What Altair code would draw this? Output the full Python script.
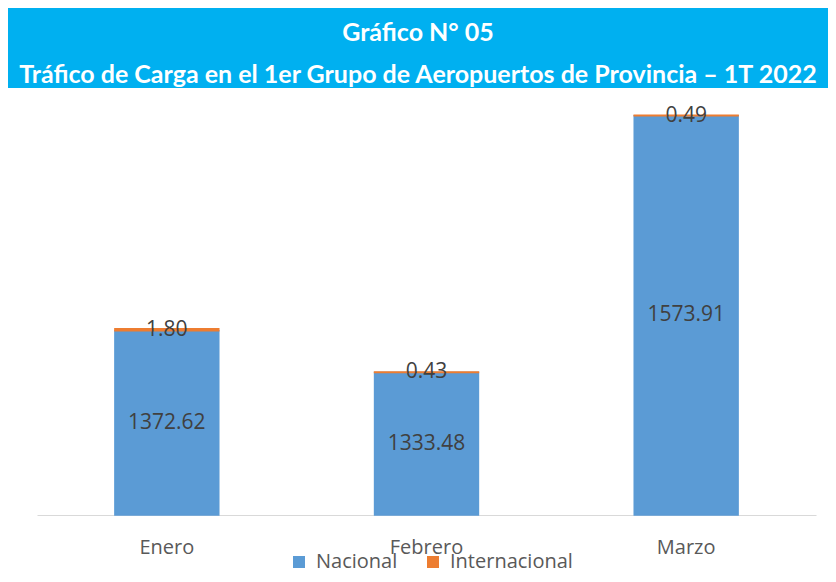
import altair as alt
import pandas as pd

meses = ["Enero", "Febrero", "Marzo"]
nacional = [1372.62, 1333.48, 1573.91]
internacional = [1.80, 0.43, 0.49]
series = ["Nacional", "Internacional"]
colores = ["#5B9BD5", "#ED7D31"]
titulos = ["Gráfico N°  05",
           "Tráfico de Carga en el 1er Grupo de Aeropuertos de Provincia – 1T 2022"]
y_min, y_max = 1200, 1600

rows = []
for m, n, i in zip(meses, nacional, internacional):
    rows.append({"mes": m, "serie": "Nacional", "valor": n, "orden": 0,
                 "label_y": (y_min + n) / 2})
    rows.append({"mes": m, "serie": "Internacional", "valor": i, "orden": 1,
                 "label_y": n + i / 2})
df = pd.DataFrame(rows)

tdf = pd.DataFrame({"linea": [0, 1], "texto": titulos})

x_enc = alt.X(
    "mes:N", sort=meses,
    scale=alt.Scale(range=[29, 808], paddingInner=0.6, paddingOuter=0.3),
    axis=alt.Axis(title=None, labelAngle=0, ticks=False, domainColor="#D9D9D9",
                  labelPadding=22, labelFontSize=20, labelColor="#595959",
                  labelFont="Open Sans"),
)
y_scale = alt.Scale(domain=[y_min, y_max], clamp=True, nice=False, zero=False)

bars = alt.Chart(df).mark_bar(strokeWidth=1.5).encode(
    x=x_enc,
    y=alt.Y("valor:Q", stack="zero", scale=y_scale, axis=None),
    color=alt.Color("serie:N", scale=alt.Scale(domain=series, range=colores),
                    legend=alt.Legend(orient="none", legendX=281, legendY=544,
                                      direction="horizontal", title=None,
                                      symbolType="square", symbolSize=144,
                                      symbolStrokeWidth=0,
                                      labelFontSize=20, labelColor="#595959",
                                      labelFont="Open Sans", columnPadding=25,
                                      labelOffset=7)),
    stroke=alt.Stroke("serie:N", scale=alt.Scale(domain=series, range=colores),
                      legend=None),
    order=alt.Order("orden:Q"),
)

labels = alt.Chart(df).mark_text(fontSize=21, color="#404040", font="Open Sans").encode(
    x=alt.X("mes:N", sort=meses),
    y=alt.Y("label_y:Q"),
    text=alt.Text("valor:Q", format=".2f"),
)

bottom = alt.layer(bars, labels).properties(width=820, height=427)

top = alt.Chart(tdf).mark_text(font="Lato", fontWeight="bold", color="white",
                               fontSize=25).encode(
    y=alt.Y("linea:Q", scale=alt.Scale(domain=[0, 1], range=[25, 67]), axis=None),
    text="texto:N",
).properties(width=820, height=80,
             view=alt.ViewBackground(fill="#00B0F0", stroke=None))

chart = alt.vconcat(top, bottom, spacing=0).properties(
    padding={"left": 0, "top": 0, "right": 0, "bottom": 16}
).configure_view(stroke=None)

chart.save("out.html", embed_options={"renderer": "svg", "actions": False})
